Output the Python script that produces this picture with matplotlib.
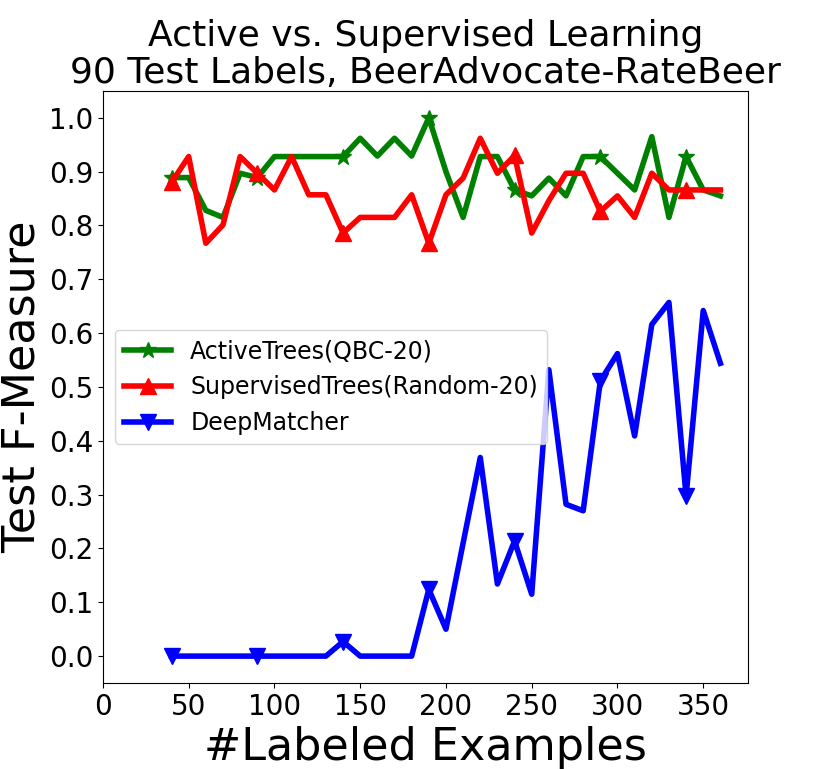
import matplotlib
matplotlib.use("Agg")
import matplotlib.pyplot as plt

x = list(range(40, 370, 10))

active_trees = [0.889, 0.889, 0.828, 0.815, 0.897, 0.889, 0.928, 0.928, 0.928, 0.928,
                0.928, 0.962, 0.929, 0.962, 0.929, 1.0, 0.9, 0.815, 0.928, 0.928,
                0.866, 0.855, 0.888, 0.855, 0.928, 0.928, 0.897, 0.866, 0.965, 0.815,
                0.928, 0.866, 0.855]

supervised_trees = [0.88, 0.928, 0.767, 0.801, 0.928, 0.897, 0.866, 0.928, 0.857, 0.857,
                    0.786, 0.815, 0.815, 0.815, 0.857, 0.767, 0.857, 0.888, 0.962, 0.897,
                    0.93, 0.786, 0.846, 0.897, 0.897, 0.826, 0.855, 0.815, 0.897, 0.866,
                    0.866, 0.866, 0.866]

deep_matcher = [0.0, 0.0, 0.0, 0.0, 0.0, 0.0, 0.0, 0.0, 0.0, 0.0,
                0.027, 0.0, 0.0, 0.0, 0.0, 0.124, 0.05, 0.21, 0.369, 0.134,
                0.214, 0.115, 0.532, 0.282, 0.27, 0.511, 0.562, 0.409, 0.616, 0.657,
                0.297, 0.642, 0.544]

labels = ["ActiveTrees(QBC-20)", "SupervisedTrees(Random-20)", "DeepMatcher"]

fig = plt.figure(figsize=(8.3, 7.69), dpi=100)
ax = fig.add_axes([0.124, 0.1118, 0.777, 0.770])

ax.plot(x, active_trees, color="green", marker="*", markersize=12, linewidth=4,
        markevery=5, label=labels[0])
ax.plot(x, supervised_trees, color="red", marker="^", markersize=12, linewidth=4,
        markevery=5, label=labels[1])
ax.plot(x, deep_matcher, color="blue", marker="v", markersize=12, linewidth=4,
        markevery=5, label=labels[2])

ax.set_xlim(0, 376)
ax.set_ylim(-0.05, 1.05)
ax.set_yticks([0.0, 0.1, 0.2, 0.3, 0.4, 0.5, 0.6, 0.7, 0.8, 0.9, 1.0])
ax.set_xticks([0, 50, 100, 150, 200, 250, 300, 350])
ax.tick_params(labelsize=20)
ax.set_xlabel("#Labeled Examples", fontsize=32)
ax.set_ylabel("Test F-Measure", fontsize=32)
ax.set_title("Active vs. Supervised Learning\n90 Test Labels, BeerAdvocate-RateBeer",
             fontsize=26, linespacing=1.1)
ax.legend(fontsize=17, loc="center left", bbox_to_anchor=(0.0, 0.50))

fig.savefig("out.png", dpi=100)
